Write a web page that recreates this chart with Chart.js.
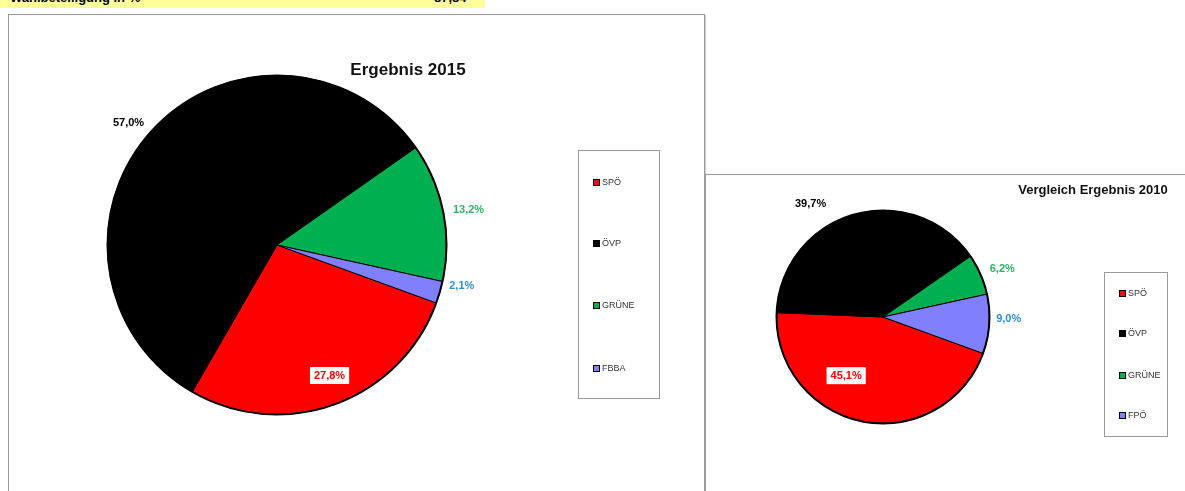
<!DOCTYPE html>
<html>
<head>
<meta charset="utf-8">
<script src="https://cdn.jsdelivr.net/npm/chart.js@4.4.1/dist/chart.umd.min.js"></script>
<style>
  html, body { margin:0; padding:0; background:#fff; }
  body { width:1185px; height:491px; position:relative; overflow:hidden; font-family:"Liberation Sans", Arial, sans-serif; }
  #bar { position:absolute; left:0; top:-9px; width:485px; height:17px; background:#ffff99; }
  #bar span { position:absolute; top:0; font:bold 13px "Liberation Sans", Arial, sans-serif; line-height:13px; color:#000; }
  .frame { position:absolute; background:#fff; border:1px solid #9a9a9a; box-shadow:1px 1px 1px #cfcfcf; }
  canvas { position:absolute; }
</style>
</head>
<body>
<div id="bar"><span id="tl" style="left:10px"></span><span id="tv" style="left:434px"></span></div>
<div class="frame" style="left:8px; top:14px; width:695px; height:520px;"></div>
<div class="frame" style="left:705px; top:174px; width:520px; height:360px;"></div>
<canvas id="c1" width="700" height="491" style="left:0; top:0;"></canvas>
<canvas id="c2" width="480" height="317" style="left:705px; top:174px;"></canvas>
<script>
const turnoutLabel = 'Wahlbeteiligung in %';
const turnoutValue = '87,84';
const categories2015 = ['SPÖ', 'ÖVP', 'GRÜNE', 'FBBA'];
const values2015 = [27.8, 57.0, 13.2, 2.1];
const categories2010 = ['SPÖ', 'ÖVP', 'GRÜNE', 'FPÖ'];
const values2010 = [45.1, 39.7, 6.2, 9.0];
const sliceColors = ['#ff0000', '#000000', '#00b050', '#8080ff'];
const labelColors = ['#ff0000', '#000000', '#2db565', '#2f8fd6'];

document.getElementById('tl').textContent = turnoutLabel;
document.getElementById('tv').textContent = turnoutValue;

function fmt(v) { return v.toFixed(1).replace('.', ',') + '%'; }

const decorPlugin = {
  id: 'decor',
  afterDatasetsDraw(chart, args, opts) {
    const ctx = chart.ctx;
    const meta = chart.getDatasetMeta(0);
    const vals = chart.data.datasets[0].data;
    ctx.save();
    // outer outline
    const a0 = meta.data[0];
    ctx.beginPath();
    ctx.arc(a0.x, a0.y, a0.outerRadius, 0, Math.PI * 2);
    ctx.strokeStyle = '#000';
    ctx.lineWidth = 2;
    ctx.stroke();
    // data labels
    meta.data.forEach((arc, i) => {
      const r = arc.outerRadius;
      const off = opts.labelOffsets[i];
      const x = arc.x + off[0] * r;
      const y = arc.y + off[1] * r;
      const txt = fmt(vals[i]);
      ctx.font = 'bold ' + opts.labelFont + 'px "Liberation Sans", Arial, sans-serif';
      ctx.textAlign = 'center';
      ctx.textBaseline = 'middle';
      if (i === 0) {
        const w = ctx.measureText(txt).width + 8;
        const h = opts.labelFont + 6;
        ctx.fillStyle = '#ffffff';
        ctx.fillRect(x - w / 2, y - h / 2, w, h);
      }
      ctx.fillStyle = labelColors[i];
      ctx.fillText(txt, x, y + 0.5);
    });
    // title
    ctx.font = 'bold ' + opts.titleFont + 'px "Liberation Sans", Arial, sans-serif';
    ctx.fillStyle = '#111';
    ctx.textAlign = 'center';
    ctx.textBaseline = 'middle';
    ctx.fillText(opts.title, opts.titleX, opts.titleY);
    // legend
    const L = opts.legend;
    ctx.strokeStyle = '#9a9a9a';
    ctx.lineWidth = 1;
    ctx.strokeRect(L.x + 0.5, L.y + 0.5, L.w, L.h);
    ctx.font = '9px "Liberation Sans", Arial, sans-serif';
    ctx.textAlign = 'left';
    chart.data.labels.forEach((lab, i) => {
      const y = L.itemY[i];
      ctx.fillStyle = sliceColors[i];
      ctx.fillRect(L.x + 15, y - 3, 7, 7);
      ctx.strokeStyle = '#000';
      ctx.strokeRect(L.x + 15.5, y - 2.5, 6, 6);
      ctx.fillStyle = '#333';
      ctx.fillText(lab, L.x + 24, y + 0.5);
    });
    ctx.restore();
  }
};

function makePie(id, labels, values, padding, decor) {
  return new Chart(document.getElementById(id), {
    type: 'pie',
    data: {
      labels: labels,
      datasets: [{
        data: values,
        backgroundColor: sliceColors,
        borderColor: '#000000',
        borderWidth: 1
      }]
    },
    options: {
      responsive: false,
      animation: false,
      rotation: 110,
      layout: { padding: padding },
      plugins: {
        legend: { display: false },
        tooltip: { enabled: false },
        decor: decor
      }
    },
    plugins: [decorPlugin]
  });
}

makePie('c1', categories2015, values2015,
  { left: 107, right: 253, top: 75, bottom: 76 },
  {
    labelOffsets: [[0.31, 0.77], [-0.876, -0.724], [1.13, -0.21], [1.09, 0.24]],
    labelFont: 11,
    title: 'Ergebnis 2015', titleFont: 17, titleX: 408, titleY: 70,
    legend: { x: 578, y: 150, w: 81, h: 248, itemY: [182, 243, 305, 368] }
  });

makePie('c2', categories2010, values2010,
  { left: 71, right: 195, top: 36, bottom: 67 },
  {
    labelOffsets: [[-0.346, 0.551], [-0.68, -1.065], [1.12, -0.46], [1.18, 0.01]],
    labelFont: 11,
    title: 'Vergleich Ergebnis 2010', titleFont: 13, titleX: 388, titleY: 16,
    legend: { x: 399, y: 98, w: 63, h: 164, itemY: [119, 159, 201, 241] }
  });
</script>
</body>
</html>
